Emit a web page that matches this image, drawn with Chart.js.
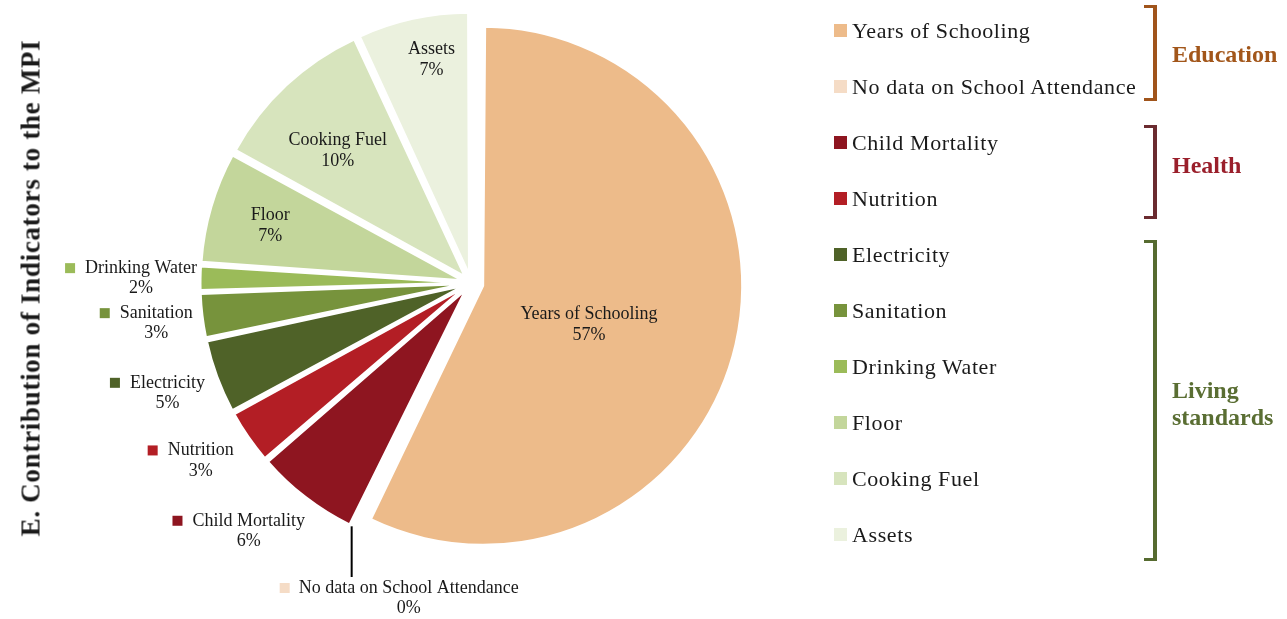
<!DOCTYPE html>
<html>
<head>
<meta charset="utf-8">
<script src="https://cdn.jsdelivr.net/npm/chart.js@4/dist/chart.umd.min.js"></script>
<style>
  body { margin: 0; background: #fff; }
  #wrap { position: relative; width: 1287px; height: 619px; overflow: hidden; }
  #chartBox { position: absolute; left: 0; top: 0; width: 1287px; height: 619px; }
  #title {
    position: absolute; left: 31px; top: 288px;
    transform: translate(-50%, -50%) rotate(-90deg);
    white-space: nowrap; font: bold 27px "Liberation Serif", serif; letter-spacing: 0.7px; color: #1a1a1a;
  }
  .item { position: absolute; left: 834px; height: 22px; white-space: nowrap; }
  .item .sq { position: absolute; left: 0; top: 4px; width: 13px; height: 13px; }
  .item .tx { position: absolute; left: 18px; top: -2px; font: 22px "Liberation Serif", serif; letter-spacing: 0.6px; color: #1a1a1a; line-height: 26px; }
  .bracket { position: absolute; left: 1144px; width: 9px; border-style: solid; border-width: 3px 4px 3px 0; border-left: none; }
  .grp { position: absolute; left: 1172px; font: bold 24px "Liberation Serif", serif; line-height: 27px; white-space: nowrap; }
</style>
</head>
<body>
<div id="wrap">
  <div id="chartBox"><canvas id="pieChart"></canvas></div>
  <div id="title">E. Contribution of Indicators to the MPI</div>
  <div id="legend"></div>
</div>
<script>
// values (share of MPI, %)
const labels = ['Years of Schooling', 'No data on School Attendance', 'Child Mortality', 'Nutrition',
  'Electricity', 'Sanitation', 'Drinking Water', 'Floor', 'Cooking Fuel', 'Assets'];
const shares = [57.2, 0, 6.4, 3.4, 4.6, 2.8, 1.6, 6.9, 10.1, 6.9];
const colors = ['#EDBB8A', '#F5DCC6', '#8E1520', '#B31E25', '#4F6228', '#77933C', '#9BBB59', '#C3D69B', '#D7E4BD', '#EBF1DE'];
const groups = ['Education', 'Health', 'Living standards'];
const groupColors = ['#A0541B', '#6B2B30', '#566B30'];
const groupTextColors = ['#A2561A', '#9A1F2B', '#5A6E33'];

// layout bits
const bracketTop = [5, 125, 240];
const bracketBottom = [101, 219, 561];
const groupLabelY = [54, 165, 404];
const offsets = labels.map((l, i) => i === 0 ? 50 : 38);
const sliceRadius = (i) => i === 0 ? 259 : 261;
// [fraction of radius, angle nudge] for labels inside the slice
const insideAt = { 0: [0.434, 0.116], 7: [0.765, 0], 8: [0.686, -0.035], 9: [0.837, 0.045] };
// [distance from centre, angle nudge] for labels outside the pie
const outsideAt = { 2: [331, 0.079], 3: [322, 0.031], 4: [322, 0.014], 5: [317, 0.002], 6: [330, 0.005] };

// keep every slice the same size even when it is pulled out
const evenRadius = {
  id: 'evenRadius',
  afterDatasetUpdate(chart) {
    chart.getDatasetMeta(0).data.forEach((arc, i) => {
      const t = offsets[i] / 4;
      const fix = 1 - Math.sin(Math.min(Math.PI, arc.circumference || 0));
      arc.outerRadius = sliceRadius(i) - t * fix;
    });
  }
};

const sliceLabels = {
  id: 'sliceLabels',
  afterDatasetsDraw(chart) {
    const ctx = chart.ctx;
    const arcs = chart.getDatasetMeta(0).data;
    ctx.save();
    ctx.font = '18px "Liberation Serif", serif';
    ctx.fillStyle = '#1a1a1a';
    ctx.textAlign = 'center';
    ctx.textBaseline = 'middle';
    arcs.forEach((arc, i) => {
      const p = arc.getProps(['x', 'y', 'startAngle', 'endAngle'], true);
      const mid = (p.startAngle + p.endAngle) / 2;
      const pct = Math.round(shares[i]) + '%';
      if (insideAt[i]) {
        const t = offsets[i] / 4;
        const r = sliceRadius(i) * insideAt[i][0];
        const a = mid + insideAt[i][1];
        const cx = p.x + Math.cos(mid) * t + Math.cos(a) * r;
        const cy = p.y + Math.sin(mid) * t + Math.sin(a) * r;
        ctx.fillText(labels[i], cx, cy - 9);
        ctx.fillText(pct, cx, cy + 12);
      } else if (shares[i] === 0) {
        const r = sliceRadius(i) + 10;
        const lx = p.x + Math.cos(mid) * r;
        const ly = p.y + Math.sin(mid) * r;
        ctx.strokeStyle = '#000';
        ctx.lineWidth = 2;
        ctx.beginPath();
        ctx.moveTo(lx, ly);
        ctx.lineTo(lx, 577);
        ctx.stroke();
        const tx = lx + 57;
        const w = ctx.measureText(labels[i]).width;
        ctx.fillText(labels[i], tx, 588);
        ctx.fillText(pct, tx, 608);
        ctx.fillStyle = colors[i];
        ctx.fillRect(tx - w / 2 - 19, 583, 10, 10);
        ctx.fillStyle = '#1a1a1a';
      } else {
        const r = outsideAt[i][0];
        const a = mid + outsideAt[i][1];
        const cx = p.x + Math.cos(a) * r;
        const cy = p.y + Math.sin(a) * r + 2.5;
        const w = ctx.measureText(labels[i]).width;
        ctx.fillText(labels[i], cx, cy - 10);
        ctx.fillText(pct, cx, cy + 10.5);
        ctx.fillStyle = colors[i];
        ctx.fillRect(cx - w / 2 - 20, cy - 15, 10, 10);
        ctx.fillStyle = '#1a1a1a';
      }
    });
    ctx.restore();
  }
};

new Chart(document.getElementById('pieChart'), {
  type: 'pie',
  data: {
    labels: labels,
    datasets: [{
      data: shares,
      backgroundColor: colors,
      borderColor: '#ffffff',
      borderWidth: 2,
      offset: offsets
    }]
  },
  options: {
    responsive: true,
    maintainAspectRatio: false,
    animation: false,
    events: [],
    radius: 250,
    layout: { padding: { left: 0, right: 345, top: 0, bottom: 53 } },
    plugins: { legend: { display: false }, tooltip: { enabled: false } }
  },
  plugins: [evenRadius, sliceLabels]
});

// legend with group brackets
const legend = document.getElementById('legend');
labels.forEach((name, i) => {
  const d = document.createElement('div');
  d.className = 'item';
  d.style.top = (31 + i * 56 - 11) + 'px';
  d.innerHTML = `<div class="sq" style="background:${colors[i]}"></div><div class="tx">${name}</div>`;
  legend.appendChild(d);
});
groups.forEach((g, k) => {
  const b = document.createElement('div');
  b.className = 'bracket';
  b.style.top = bracketTop[k] + 'px';
  b.style.height = (bracketBottom[k] - bracketTop[k] - 6) + 'px';
  b.style.borderColor = groupColors[k];
  legend.appendChild(b);
  const t = document.createElement('div');
  t.className = 'grp';
  t.style.color = groupTextColors[k];
  const words = g === 'Living standards' ? ['Living', 'standards'] : [g];
  t.innerHTML = words.join('<br>');
  t.style.top = (groupLabelY[k] - words.length * 13.5) + 'px';
  legend.appendChild(t);
});
</script>
</body>
</html>
